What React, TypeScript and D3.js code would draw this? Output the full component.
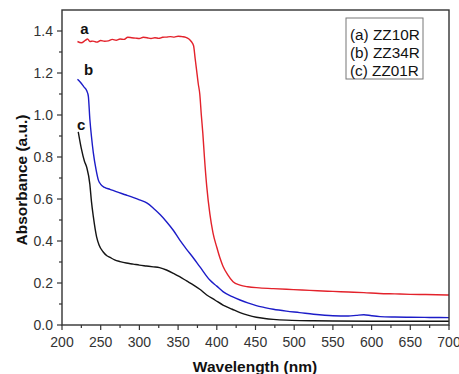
import React from "react";
import * as d3 from "d3";

const W = 459;
const H = 374;
const M = { left: 62, right: 10, top: 10, bottom: 49 };

const xTicks = [200, 250, 300, 350, 400, 450, 500, 550, 600, 650, 700];
const yTicks = [0.0, 0.2, 0.4, 0.6, 0.8, 1.0, 1.2, 1.4];

const legendLabels = ["(a) ZZ10R", "(b) ZZ34R", "(c) ZZ01R"];
const curveLabels = ["a", "b", "c"];
const colors = ["#e3222b", "#1c1cc8", "#141414"];

// Sample a: ZZ10R
const wlA = [220, 225, 230, 233, 236, 240, 245, 250, 255, 260, 265, 270, 275, 280, 285, 290, 295, 300, 305, 310, 315, 320, 325, 330, 335, 340, 345, 350, 355, 360, 364, 367, 370, 372, 374, 376, 378, 380, 382, 384, 387, 391, 395, 400, 404, 408, 414, 421, 430, 440, 455, 473, 490, 510, 530, 550, 570, 590, 610, 630, 650, 670, 700];
const absA = [1.35, 1.344, 1.355, 1.362, 1.35, 1.352, 1.347, 1.355, 1.351, 1.353, 1.36, 1.356, 1.362, 1.36, 1.37, 1.368, 1.366, 1.364, 1.37, 1.368, 1.364, 1.368, 1.365, 1.37, 1.371, 1.373, 1.371, 1.375, 1.373, 1.37, 1.362, 1.35, 1.33, 1.27, 1.21, 1.15, 1.1, 1.0, 0.91, 0.8, 0.66, 0.53, 0.44, 0.37, 0.32, 0.28, 0.24, 0.206, 0.19, 0.182, 0.177, 0.173, 0.17, 0.167, 0.163, 0.16, 0.157, 0.154, 0.15, 0.148, 0.146, 0.145, 0.143];

// Sample b: ZZ34R
const wlB = [220, 224, 228, 232, 234, 236, 238, 240.5, 244, 247, 250, 255, 262, 270, 283, 300, 310, 318, 327, 335, 344, 352, 360, 370, 378, 391, 400, 408, 420, 430, 440, 451, 462, 473, 490, 507, 525, 550, 570, 580, 590, 600, 611, 630, 650, 675, 700];
const absB = [1.17, 1.155, 1.135, 1.115, 1.09, 0.98, 0.9, 0.82, 0.74, 0.69, 0.67, 0.655, 0.646, 0.635, 0.619, 0.596, 0.58, 0.556, 0.525, 0.492, 0.45, 0.405, 0.365, 0.318, 0.278, 0.214, 0.185, 0.159, 0.135, 0.119, 0.105, 0.092, 0.083, 0.075, 0.066, 0.059, 0.051, 0.044, 0.043, 0.046, 0.049, 0.044, 0.04, 0.038, 0.037, 0.036, 0.035];

// Sample c: ZZ01R
const wlC = [221, 225, 229, 232, 236, 238, 240.5, 244.7, 248, 253, 258, 262, 268, 275, 283, 292, 300, 309, 318, 326, 335, 344, 352, 361, 370, 378, 387, 398, 408, 420, 430, 440, 451, 462, 473, 490, 507, 525, 550, 600, 650, 700];
const absC = [0.92, 0.84, 0.78, 0.75, 0.67, 0.59, 0.516, 0.42, 0.38, 0.349, 0.33, 0.322, 0.31, 0.302, 0.295, 0.29, 0.285, 0.281, 0.277, 0.273, 0.262, 0.246, 0.23, 0.21, 0.19, 0.17, 0.143, 0.118, 0.095, 0.075, 0.059, 0.047, 0.037, 0.031, 0.027, 0.023, 0.021, 0.02, 0.019, 0.018, 0.018, 0.018];

const seriesWl = [wlA, wlB, wlC];
const seriesAbs = [absA, absB, absC];

export default function App() {
  const x = d3.scaleLinear().domain([200, 700]).range([M.left, W - M.right]);
  const y = d3.scaleLinear().domain([0, 1.5]).range([H - M.bottom, M.top]);
  const line = d3
    .line<[number, number]>()
    .x((d) => x(d[0]))
    .y((d) => y(d[1]))
    .curve(d3.curveMonotoneX);

  const axisColor = "#333";
  const font = "'Liberation Sans', Arial, sans-serif";
  const x0 = x(200);
  const x1 = x(700);
  const y0 = y(0);
  const yTop = y(1.5);

  const xMinor = d3.range(225, 700, 50);
  const yMinor = d3.range(0.1, 1.5, 0.2);

  return (
    <svg
      width={W}
      height={H}
      style={{ position: "absolute", left: 0, top: 0, background: "#fff" }}
      fontFamily={font}
    >
      <rect x={0} y={0} width={W} height={H} fill="#fff" />
      {/* series */}
      {seriesWl.map((wl, i) => (
        <path
          key={i}
          d={line(wl.map((w, j) => [w, seriesAbs[i][j]] as [number, number])) || ""}
          fill="none"
          stroke={colors[i]}
          strokeWidth={1.4}
        />
      ))}
      {/* frame */}
      <rect
        x={x0}
        y={yTop}
        width={x1 - x0}
        height={y0 - yTop}
        fill="none"
        stroke={axisColor}
        strokeWidth={1.4}
      />
      {/* x ticks */}
      {xTicks.map((t) => (
        <g key={"xt" + t}>
          <line x1={x(t)} x2={x(t)} y1={y0} y2={y0 + 5} stroke={axisColor} strokeWidth={1.2} />
          <text x={x(t)} y={y0 + 21.5} textAnchor="middle" fontSize={14} fill="#333">
            {t}
          </text>
        </g>
      ))}
      {xMinor.map((t) => (
        <line key={"xm" + t} x1={x(t)} x2={x(t)} y1={y0} y2={y0 + 3} stroke={axisColor} strokeWidth={1.2} />
      ))}
      {/* y ticks */}
      {yTicks.map((t) => (
        <g key={"yt" + t}>
          <line x1={x0 - 5} x2={x0} y1={y(t)} y2={y(t)} stroke={axisColor} strokeWidth={1.2} />
          <text x={x0 - 9} y={y(t) + 5} textAnchor="end" fontSize={14} fill="#333">
            {t.toFixed(1)}
          </text>
        </g>
      ))}
      {yMinor.map((t) => (
        <line key={"ym" + t} x1={x0 - 3} x2={x0} y1={y(t)} y2={y(t)} stroke={axisColor} strokeWidth={1.2} />
      ))}
      {/* axis titles */}
      <text x={255} y={372} textAnchor="middle" fontSize={15.5} fontWeight="bold" fill="#111">
        Wavelength (nm)
      </text>
      <text
        transform={`translate(27,180) rotate(-90)`}
        textAnchor="middle"
        fontSize={15.5}
        fontWeight="bold"
        fill="#111"
      >
        Absorbance (a.u.)
      </text>
      {/* curve labels */}
      {curveLabels.map((l, i) => (
        <text
          key={l}
          x={x(seriesWl[i][0]) + [7, 11, 3][i]}
          y={y(seriesAbs[i][0]) + [-8, -4, -2][i]}
          textAnchor="middle"
          fontSize={15}
          fontWeight="bold"
          fill="#111"
        >
          {l}
        </text>
      ))}
      {/* legend */}
      <rect x={346} y={18} width={77} height={61} fill="#fff" stroke="#777" strokeWidth={1} />
      {legendLabels.map((l, i) => (
        <text key={l} x={350} y={39.5 + i * 18} fontSize={15.3} fill="#111">
          {l}
        </text>
      ))}
    </svg>
  );
}
